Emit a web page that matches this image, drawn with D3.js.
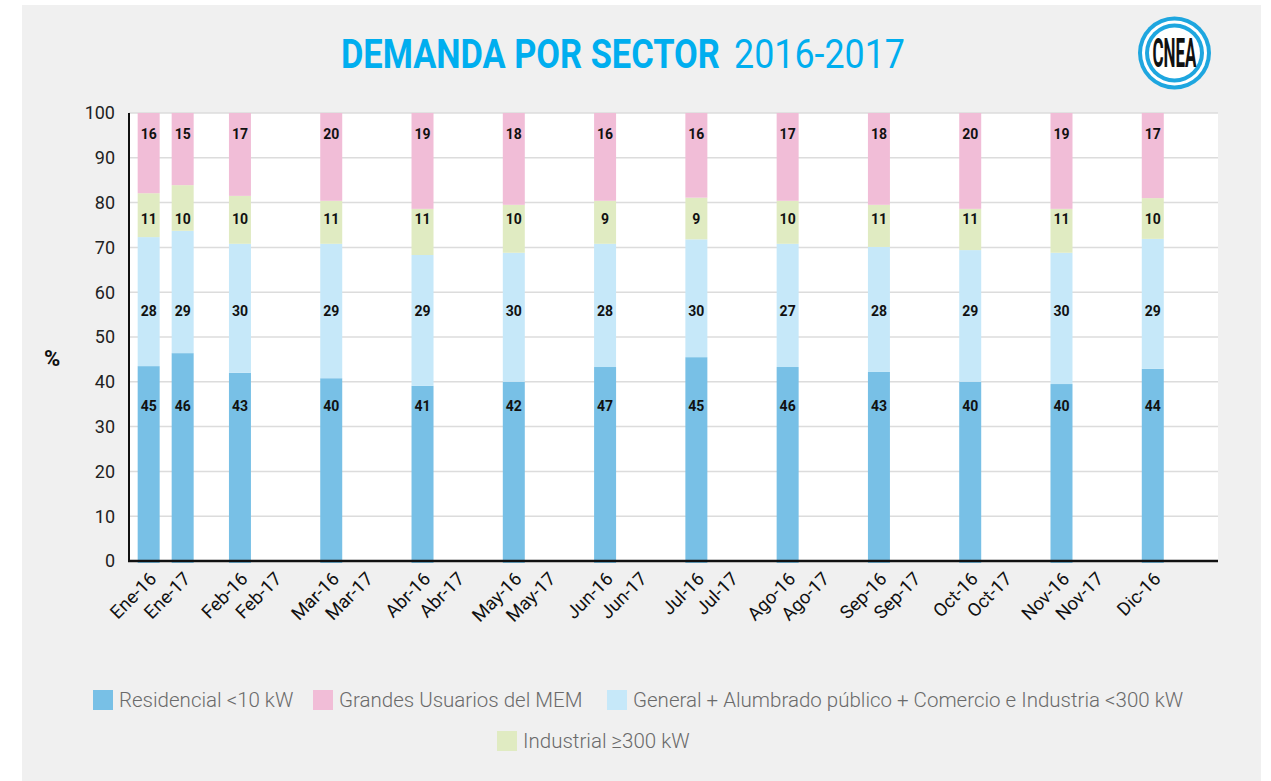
<!DOCTYPE html>
<html>
<head>
<meta charset="utf-8">
<script src="https://cdn.jsdelivr.net/npm/d3@7"></script>
<style>
  body { margin: 0; background: #fff; font-family: Roboto, "Noto Sans", sans-serif; }
  svg { display: block; }
</style>
</head>
<body>
<div id="chart"></div>
<script>
// data
var months = ["Ene", "Feb", "Mar", "Abr", "May", "Jun", "Jul", "Ago", "Sep", "Oct", "Nov", "Dic"];
var years = ["16", "17"];
var periods = ["Ene-16", "Ene-17", "Feb-16", "Mar-16", "Abr-16", "May-16", "Jun-16",
  "Jul-16", "Ago-16", "Sep-16", "Oct-16", "Nov-16", "Dic-16"];
var tickLabels = ["Ene-16", "Ene-17", "Feb-16", "Feb-17", "Mar-16", "Mar-17", "Abr-16", "Abr-17",
  "May-16", "May-17", "Jun-16", "Jun-17", "Jul-16", "Jul-17", "Ago-16", "Ago-17",
  "Sep-16", "Sep-17", "Oct-16", "Oct-17", "Nov-16", "Nov-17", "Dic-16"];
var yTicks = [0, 10, 20, 30, 40, 50, 60, 70, 80, 90, 100];

// bar heights as drawn (%)
var residencial = [43.5, 46.4, 42.0, 40.8, 39.1, 40.0, 43.3, 45.5, 43.3, 42.2, 40.0, 39.5, 42.9];
var general     = [28.8, 27.3, 28.8, 30.0, 29.2, 28.8, 27.5, 26.3, 27.5, 27.9, 29.4, 29.3, 29.0];
var industrial  = [ 9.8, 10.2, 10.7,  9.6, 10.3, 10.7,  9.6,  9.3,  9.6,  9.4,  9.2,  9.8,  9.1];
var grandes     = [17.9, 16.1, 18.5, 19.6, 21.4, 20.5, 19.6, 18.9, 19.6, 20.5, 21.4, 21.4, 19.0];

// numbers printed on the bars
var residencialLbl = [45, 46, 43, 40, 41, 42, 47, 45, 46, 43, 40, 40, 44];
var generalLbl     = [28, 29, 30, 29, 29, 30, 28, 30, 27, 28, 29, 30, 29];
var industrialLbl  = [11, 10, 10, 11, 11, 10, 9, 9, 10, 11, 11, 11, 10];
var grandesLbl     = [16, 15, 17, 20, 19, 18, 16, 16, 17, 18, 20, 19, 17];

var seriesNames = ["Residencial <10 kW", "General + Alumbrado público + Comercio e Industria <300 kW",
  "Industrial ≥300 kW", "Grandes Usuarios del MEM"];
var colors = ["#78c0e6", "#c6e8f9", "#e0ebc2", "#f1bdd7"];

var W = 1271, H = 781;
var margin = {top: 113, right: 53, bottom: 220, left: 129};
var width = W - margin.left - margin.right,
  height = H - margin.top - margin.bottom;

var svg = d3.select("#chart").append("svg")
  .attr("width", W)
  .attr("height", H);

// grey panel
svg.append("rect")
  .attr("x", 22).attr("y", 5)
  .attr("width", 1239).attr("height", 776)
  .attr("fill", "#f0f0f0");

// title, squeezed horizontally to the condensed look of the original
function condensed(x, y, txt, weight, target) {
  var t = svg.append("text")
    .attr("font-size", 40)
    .attr("font-weight", weight)
    .attr("fill", "#00aeef")
    .text(txt);
  var k = target / t.node().getComputedTextLength();
  t.attr("transform", "translate(" + x + "," + y + ") scale(" + k + ",1)");
}
condensed(341, 68, "DEMANDA POR SECTOR", 700, 379);
condensed(734, 68, "2016-2017", 400, 171);

// logo
var logo = svg.append("g").attr("transform", "translate(1174.5,53)");
[[36.5, "#1ea6df"], [32.5, "#fff"], [29.5, "#1ea6df"], [25.5, "#fff"]].forEach(function(c) {
  logo.append("circle").attr("r", c[0]).attr("fill", c[1]);
});
var cnea = logo.append("text")
  .attr("text-anchor", "middle")
  .attr("font-size", 40).attr("font-weight", 700)
  .attr("fill", "#111")
  .text("CNEA");
cnea.attr("transform", "translate(0,14) scale(" + (44 / cnea.node().getComputedTextLength()) + ",1)");

var g = svg.append("g")
  .attr("transform", "translate(" + margin.left + "," + margin.top + ")");

var x0 = d3.scaleBand()
  .domain(months)
  .range([0, width])
  .paddingInner(0.26)
  .paddingOuter(0.095);

var x1 = d3.scaleBand()
  .domain(years)
  .range([0, x0.bandwidth()])
  .paddingInner(0.353)
  .paddingOuter(0.17)
  .align(0);

var y = d3.scaleLinear()
  .domain([0, 100])
  .range([height, 0]);

function xPos(p) {
  var parts = p.split("-");
  return x0(parts[0]) + x1(parts[1]);
}

g.append("rect")
  .attr("width", width).attr("height", height)
  .attr("fill", "#fff");

// grid
g.append("g")
  .selectAll("line")
  .data(yTicks.slice(1))
  .enter().append("line")
  .attr("x1", 0).attr("x2", width)
  .attr("y1", function(d) { return y(d); })
  .attr("y2", function(d) { return y(d); })
  .attr("stroke", "#dcdcdc")
  .attr("stroke-width", 1.5);

// stacked bars
var table = periods.map(function(p, i) {
  return {period: p, s0: residencial[i], s1: general[i], s2: industrial[i], s3: grandes[i]};
});
var stack = d3.stack().keys(["s0", "s1", "s2", "s3"]);
var layers = stack(table);

g.selectAll(".layer")
  .data(layers)
  .enter().append("g")
  .attr("class", "layer")
  .attr("fill", function(d, i) { return colors[i]; })
  .selectAll("rect")
  .data(function(d) { return d; })
  .enter().append("rect")
  .attr("x", function(d) { return xPos(d.data.period); })
  .attr("width", x1.bandwidth())
  .attr("y", function(d) { return y(d[1]); })
  .attr("height", function(d) { return y(d[0]) - y(d[1]) + (d[0] === 0 ? 2 : 0); });

// printed values, one row per series
var labelRows = [34.6, 55.8, 76.3, 95.3];
var labelSets = [residencialLbl, generalLbl, industrialLbl, grandesLbl];
labelSets.forEach(function(set, k) {
  g.append("g")
    .selectAll("text")
    .data(set)
    .enter().append("text")
    .attr("x", function(d, i) { return xPos(periods[i]) + x1.bandwidth() / 2; })
    .attr("y", y(labelRows[k]))
    .attr("dy", "0.36em")
    .attr("text-anchor", "middle")
    .attr("font-size", 14)
    .attr("font-weight", 700)
    .attr("fill", "#111")
    .text(function(d) { return d; });
});

// axes
g.append("line")
  .attr("x1", 0).attr("x2", 0)
  .attr("y1", 0).attr("y2", height)
  .attr("stroke", "#111").attr("stroke-width", 2);
g.append("line")
  .attr("x1", -1).attr("x2", width)
  .attr("y1", height).attr("y2", height)
  .attr("stroke", "#111").attr("stroke-width", 2.5);

g.append("g")
  .selectAll("text")
  .data(yTicks)
  .enter().append("text")
  .attr("x", -14)
  .attr("y", function(d) { return y(d); })
  .attr("dy", "0.36em")
  .attr("text-anchor", "end")
  .attr("font-size", 18)
  .attr("fill", "#222")
  .text(function(d) { return d; });

g.append("text")
  .attr("x", -77).attr("y", y(45.3))
  .attr("dy", "0.36em")
  .attr("text-anchor", "middle")
  .attr("font-size", 22).attr("font-weight", 700)
  .attr("fill", "#111")
  .text("%");

g.append("g")
  .selectAll("text")
  .data(tickLabels)
  .enter().append("text")
  .attr("transform", function(d) {
    return "translate(" + (xPos(d) + x1.bandwidth() / 2 + 9) + "," + (height + 19) + ") rotate(-45)";
  })
  .attr("text-anchor", "end")
  .attr("font-size", 18.5)
  .attr("fill", "#111")
  .text(function(d) { return d; });

// legend
var legendItems = [
  {name: seriesNames[0], color: colors[0], x: 93, y: 700},
  {name: seriesNames[3], color: colors[3], x: 313, y: 700},
  {name: seriesNames[1], color: colors[1], x: 607, y: 700},
  {name: seriesNames[2], color: colors[2], x: 497, y: 741}
];
var legend = svg.append("g")
  .selectAll("g")
  .data(legendItems)
  .enter().append("g")
  .attr("transform", function(d) { return "translate(" + d.x + "," + d.y + ")"; });
legend.append("rect")
  .attr("y", -10)
  .attr("width", 20).attr("height", 20)
  .attr("fill", function(d) { return d.color; });
legend.append("text")
  .attr("x", 26)
  .attr("dy", "0.36em")
  .attr("font-size", 20.5)
  .attr("font-weight", 300)
  .attr("fill", "#6a6a6a")
  .text(function(d) { return d.name; });
</script>
</body>
</html>
